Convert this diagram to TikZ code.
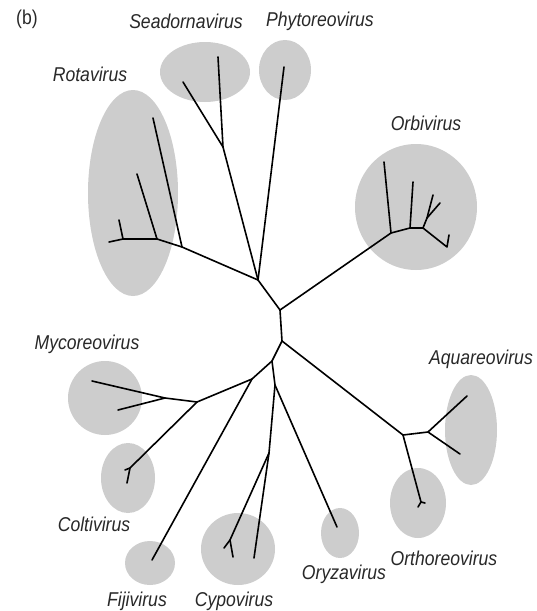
\documentclass[tikz,border=0pt]{standalone}
\usepackage{fontspec}
\newfontfamily\virusfont{Liberation Sans}[FakeStretch=0.88]
\definecolor{cladegray}{RGB}{205,205,205}
\definecolor{labelgray}{RGB}{40,40,40}
\tikzset{
	clade/.style = {fill = cladegray},
	branch/.style = {line width = 1.6pt, line join = round, line cap = round},
	virus/.style = {font = \virusfont\itshape\fontsize{20}{23}\selectfont, text = labelgray, inner sep = 0pt}
}

\begin{document}
\begin{tikzpicture}[x = 1pt, y = -1pt]
	\useasboundingbox (0,0) rectangle (537,611);
	% clades
	\fill [clade] (205,72) ellipse (45 and 30);
	\fill [clade] (285,70) ellipse (26 and 30);
	\fill [clade] (133,193) ellipse (45 and 103);
	\fill [clade] (416,207) ellipse (61 and 63);
	\fill [clade] (105,398) ellipse (37 and 37);
	\fill [clade] (128,478) ellipse (27 and 35);
	\fill [clade] (150,563) ellipse (25 and 22);
	\fill [clade] (238,549) ellipse (37 and 36);
	\fill [clade] (340,533) ellipse (19 and 25);
	\fill [clade] (418,503) ellipse (28 and 35);
	\fill [clade] (471,430) ellipse (26 and 55);
	% branch points
	\coordinate (up) at (258,280);
	\coordinate (mid) at (280,310);
	\coordinate (low) at (282,341);
	\coordinate (rj3) at (182,247);
	\coordinate (rj2) at (157,239);
	\coordinate (rj1) at (123,239);
	\coordinate (sj) at (223,147);
	\coordinate (oj1) at (391,233);
	\coordinate (oj2) at (410,228);
	\coordinate (oj3) at (423,228);
	\coordinate (oj4) at (427,218);
	\coordinate (oj5) at (447,247);
	\coordinate (aj1) at (403,435);
	\coordinate (aj2) at (428,432);
	\coordinate (orj) at (421,502);
	\coordinate (cj) at (272,361);
	\coordinate (fj) at (252,379);
	\coordinate (mj) at (197,402);
	\coordinate (mcj) at (165,398);
	\coordinate (coj) at (130,468);
	\coordinate (yj) at (275,385);
	\coordinate (cyj) at (269,453);
	\coordinate (cyk) at (230,540);
	% tips
	\coordinate (rt4) at (153,118);
	\coordinate (rt3) at (137,174);
	\coordinate (rt2) at (119,220);
	\coordinate (rt1) at (109,242);
	\coordinate (st1) at (218,57);
	\coordinate (st2) at (183,82);
	\coordinate (pt) at (284,67);
	\coordinate (ot1) at (384,162);
	\coordinate (ot2) at (413,182);
	\coordinate (ot3) at (433,195);
	\coordinate (ot4) at (440,203);
	\coordinate (ot5) at (449,235);
	\coordinate (at1) at (467,396);
	\coordinate (at2) at (460,454);
	\coordinate (ort1) at (418,507);
	\coordinate (ort2) at (425,503);
	\coordinate (mt1) at (92,381);
	\coordinate (mt2) at (118,410);
	\coordinate (cot1) at (125,470);
	\coordinate (cot2) at (127,483);
	\coordinate (fit) at (152,560);
	\coordinate (oz) at (337,527);
	\coordinate (cyt1) at (254,558);
	\coordinate (cyt2) at (233,557);
	\coordinate (cyt3) at (224,548);
	% tree
	\draw [branch] (rt1) -- (rj1) -- (rj2) -- (rj3) -- (up) -- (mid) -- (low) -- (cj) -- (yj) -- (cyj) -- (cyt1);
	\draw [branch] (rj1) -- (rt2);
	\draw [branch] (rj2) -- (rt3);
	\draw [branch] (rj3) -- (rt4);
	\draw [branch] (up) -- (sj) -- (st1);
	\draw [branch] (sj) -- (st2);
	\draw [branch] (up) -- (pt);
	\draw [branch] (mid) -- (oj1) -- (oj2) -- (oj3) -- (oj5) -- (ot5);
	\draw [branch] (oj1) -- (ot1);
	\draw [branch] (oj2) -- (ot2);
	\draw [branch] (oj3) -- (oj4) -- (ot3);
	\draw [branch] (oj4) -- (ot4);
	\draw [branch] (low) -- (aj1) -- (aj2) -- (at1);
	\draw [branch] (aj2) -- (at2);
	\draw [branch] (aj1) -- (orj) -- (ort1);
	\draw [branch] (orj) -- (ort2);
	\draw [branch] (cj) -- (fj) -- (fit);
	\draw [branch] (fj) -- (mj) -- (mcj) -- (mt1);
	\draw [branch] (mcj) -- (mt2);
	\draw [branch] (mj) -- (coj) -- (cot2);
	\draw [branch] (coj) -- (cot1);
	\draw [branch] (yj) -- (oz);
	\draw [branch] (cyj) -- (cyk) -- (cyt2);
	\draw [branch] (cyk) -- (cyt3);
	% labels
	\node (panel) at (27,19) [font = \virusfont\fontsize{20}{23}\selectfont, text = labelgray, inner sep = 0pt] {(b)};
	\node (seadorna) at (186,21) [virus] {Seadornavirus};
	\node (phyto) at (320,21) [virus] {Phytoreovirus};
	\node (rota) at (90,74) [virus] {Rotavirus};
	\node (orbi) at (426,123) [virus] {Orbivirus};
	\node (myco) at (87,344) [virus] {Mycoreovirus};
	\node (colti) at (94,524) [virus] {Coltivirus};
	\node (fiji) at (137,601) [virus] {Fijivirus};
	\node (cypo) at (234,601) [virus] {Cypovirus};
	\node (oryza) at (344,574) [virus] {Oryzavirus};
	\node (ortho) at (444,558) [virus] {Orthoreovirus};
	\node (aqua) at (481,359) [virus] {Aquareovirus};
\end{tikzpicture}
\end{document}
